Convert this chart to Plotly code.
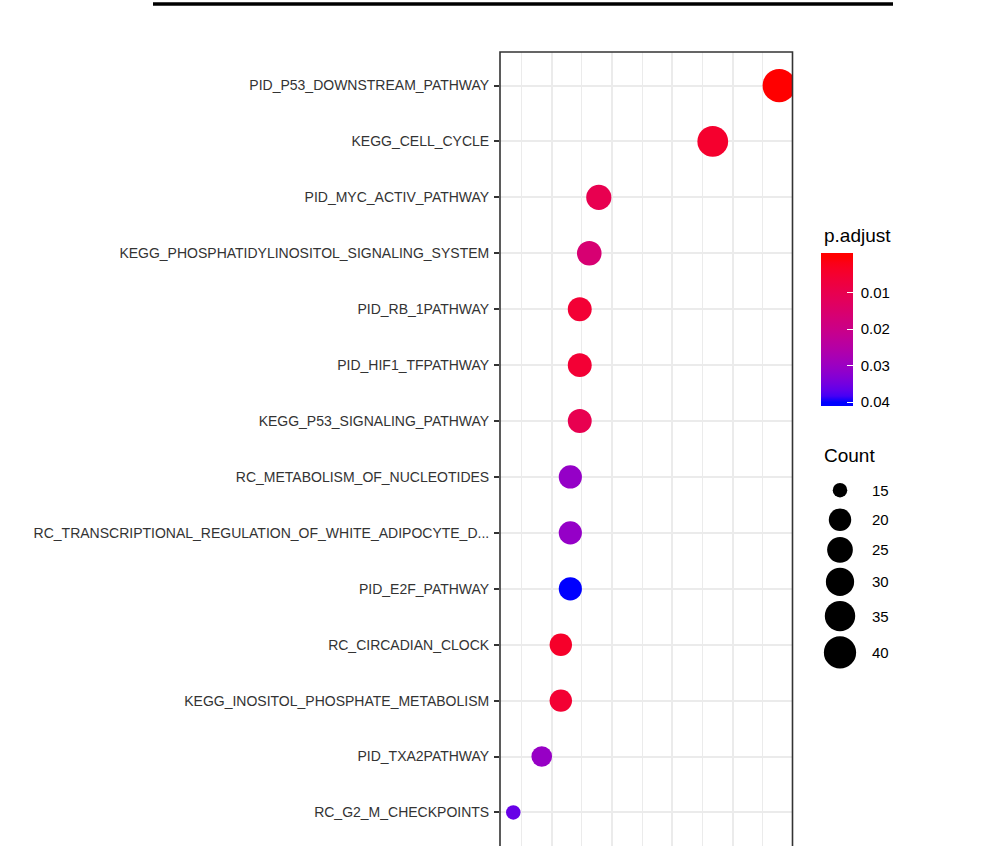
import numpy as np
import plotly.graph_objects as go

# ---------------- data ----------------
pathways = [
    "PID_P53_DOWNSTREAM_PATHWAY",
    "KEGG_CELL_CYCLE",
    "PID_MYC_ACTIV_PATHWAY",
    "KEGG_PHOSPHATIDYLINOSITOL_SIGNALING_SYSTEM",
    "PID_RB_1PATHWAY",
    "PID_HIF1_TFPATHWAY",
    "KEGG_P53_SIGNALING_PATHWAY",
    "RC_METABOLISM_OF_NUCLEOTIDES",
    "RC_TRANSCRIPTIONAL_REGULATION_OF_WHITE_ADIPOCYTE_D...",
    "PID_E2F_PATHWAY",
    "RC_CIRCADIAN_CLOCK",
    "KEGG_INOSITOL_PHOSPHATE_METABOLISM",
    "PID_TXA2PATHWAY",
    "RC_G2_M_CHECKPOINTS",
]
gene_ratio = [0.3386, 0.2835, 0.1890, 0.1811, 0.1732, 0.1732, 0.1732,
              0.1654, 0.1654, 0.1654, 0.1575, 0.1575, 0.1417, 0.1181]
count = [43, 36, 24, 23, 22, 22, 22, 21, 21, 21, 20, 20, 18, 15]
p_adjust = [0.00023, 0.0048, 0.0102, 0.0162, 0.0058, 0.0058, 0.0102,
            0.0309, 0.0309, 0.04005, 0.0042, 0.0055, 0.0305, 0.0361]

size_breaks = [15, 20, 25, 30, 35, 40]
color_breaks = [0.01, 0.02, 0.03, 0.04]
color_labels = ["0.01", "0.02", "0.03", "0.04"]

# ---------------- geometry / style ----------------
W, H = 985, 846
PANEL_L, PANEL_R, PANEL_T = 500, 792.5, 51.5
FONT = "Liberation Sans, Arial, sans-serif"
GRID = "#EBEBEB"
BORDER = "#333333"
D_MIN, D_MAX = 14.5, 33.3          # point diameters (px) for min / max count

CB_X, CB_TOP, CB_LEN, CB_THICK = 820.7, 253.3, 152.7, 31.6
CB_Y_FIX = 16.3                     # plotly places the bar this much higher than asked
LEG_X, LEG_LABEL_X, LEG_FIRST_Y = 840, 870, 490


# ---------------- colour scale (CIELAB interpolation red -> blue) ----------------
def srgb_to_lab(rgb):
    c = np.array(rgb, float) / 255
    c = np.where(c > 0.04045, ((c + 0.055) / 1.055) ** 2.4, c / 12.92)
    M = np.array([[0.4124, 0.3576, 0.1805],
                  [0.2126, 0.7152, 0.0722],
                  [0.0193, 0.1192, 0.9505]])
    xyz = M @ c / np.array([0.95047, 1.0, 1.08883])
    f = np.where(xyz > 0.008856, np.cbrt(xyz), 7.787 * xyz + 16 / 116)
    return np.array([116 * f[1] - 16, 500 * (f[0] - f[1]), 200 * (f[1] - f[2])])


def lab_to_srgb(lab):
    L, a, b = lab
    fy = (L + 16) / 116
    fx = fy + a / 500
    fz = fy - b / 200
    f = np.array([fx, fy, fz])
    xyz = np.where(f ** 3 > 0.008856, f ** 3, (f - 16 / 116) / 7.787)
    xyz = xyz * np.array([0.95047, 1.0, 1.08883])
    Minv = np.array([[3.2406, -1.5372, -0.4986],
                     [-0.9689, 1.8758, 0.0415],
                     [0.0557, -0.2040, 1.0570]])
    c = Minv @ xyz
    c = np.clip(c, 0, 1)
    c = np.where(c > 0.0031308, 1.055 * c ** (1 / 2.4) - 0.055, 12.92 * c)
    c = np.clip(np.round(c * 255), 0, 255).astype(int)
    return "rgb(%d,%d,%d)" % tuple(c)


LAB_RED = srgb_to_lab((255, 0, 0))
LAB_BLUE = srgb_to_lab((0, 0, 255))

p_min, p_max = min(p_adjust), max(p_adjust)
pad = (p_max - p_min) / 38.0        # ggplot colourbar half-bin (nbin = 20)
bar_lo, bar_hi = p_min - pad, p_max + pad
# colour values are negated so that small p.adjust is at the top of the bar
c_min, c_max = -bar_hi, -bar_lo
s_blue = (-p_max - c_min) / (c_max - c_min)
s_red = (-p_min - c_min) / (c_max - c_min)
colorscale = [[0.0, "rgb(0,0,255)"]]
N = 24
for i in range(N + 1):
    t = i / N                       # 0 -> blue, 1 -> red
    lab = LAB_BLUE + (LAB_RED - LAB_BLUE) * t
    colorscale.append([s_blue + (s_red - s_blue) * t, lab_to_srgb(lab)])
colorscale.append([1.0, "rgb(255,0,0)"])

# ---------------- size scale (area scale like ggplot) ----------------
c_lo, c_hi = min(count), max(count)


def size_px(c):
    return D_MIN + (D_MAX - D_MIN) * np.sqrt((c - c_lo) / (c_hi - c_lo))


sizes = [float(size_px(c)) for c in count]

# ---------------- x range: ggplot 5% expansion ----------------
xr = max(gene_ratio) - min(gene_ratio)
x_range = [min(gene_ratio) - 0.05 * xr, max(gene_ratio) + 0.05 * xr]

fig = go.Figure()

fig.add_trace(go.Scatter(
    x=gene_ratio, y=pathways, mode="markers",
    marker=dict(
        size=sizes, sizemode="diameter",
        color=[-p for p in p_adjust], cmin=c_min, cmax=c_max,
        colorscale=colorscale, line=dict(width=0), opacity=1,
        showscale=True,
        colorbar=dict(
            x=CB_X / W, xref="container", xanchor="left", xpad=0,
            y=1 - (CB_TOP + CB_Y_FIX) / H, yref="container", yanchor="top", ypad=0,
            len=CB_LEN, lenmode="pixels",
            thickness=CB_THICK, thicknessmode="pixels",
            outlinewidth=0, borderwidth=0,
            tickvals=[-v for v in color_breaks],
            ticktext=["\u00a0" + s for s in color_labels],
            ticks="inside", ticklen=6, tickcolor="white", tickwidth=1,
            tickfont=dict(family=FONT, size=15, color="black"),
        ),
    ),
    hoverinfo="x+y", showlegend=False,
))

# size legend (drawn on a pixel-unit overlay axis)
leg_d = [float(size_px(s)) for s in size_breaks]
key_h = [max(29.5, d + 5) for d in leg_d]
leg_y = [LEG_FIRST_Y]
for i in range(1, len(size_breaks)):
    leg_y.append(leg_y[-1] + (key_h[i - 1] + key_h[i]) / 2)

fig.add_trace(go.Scatter(
    x=[LEG_X] * len(size_breaks), y=leg_y, mode="markers",
    marker=dict(size=leg_d, sizemode="diameter", color="#000000", opacity=1,
                line=dict(width=0)),
    xaxis="x2", yaxis="y2", hoverinfo="skip", showlegend=False,
))

annotations = []
for s, y in zip(size_breaks, leg_y):
    annotations.append(dict(x=LEG_LABEL_X, y=y, xref="x2", yref="y2", text=str(s),
                            showarrow=False, xanchor="left", yanchor="middle",
                            font=dict(family=FONT, size=15, color="black")))
annotations.append(dict(x=821.5, y=235, xref="x2", yref="y2", text="p.adjust",
                        showarrow=False, xanchor="left", yanchor="middle",
                        font=dict(family=FONT, size=19, color="black")))
annotations.append(dict(x=821.5, y=455, xref="x2", yref="y2", text="Count",
                        showarrow=False, xanchor="left", yanchor="middle",
                        font=dict(family=FONT, size=19, color="black")))

shapes = []
# panel border (bottom edge lies below the visible page)
x0p, x1p = PANEL_L / W, PANEL_R / W
shapes.append(dict(type="rect", xref="paper", yref="paper", x0=x0p, x1=x1p,
                   y0=-0.03, y1=1, line=dict(color=BORDER, width=1.6),
                   fillcolor="rgba(0,0,0,0)", layer="above"))
# white ticks on left edge of colour bar
for v in color_breaks:
    ty = CB_TOP + (v - bar_lo) / (bar_hi - bar_lo) * CB_LEN
    shapes.append(dict(type="line", xref="x2", yref="y2", x0=CB_X, x1=CB_X + 6,
                       y0=ty, y1=ty, line=dict(color="white", width=1), layer="above"))
# heading underline at the very top (heading text is cut off)
plot_h = H - PANEL_T
shapes.append(dict(type="line", xref="paper", yref="paper", x0=153 / W, x1=893 / W,
                   y0=1 + (PANEL_T - 3.5) / plot_h, y1=1 + (PANEL_T - 3.5) / plot_h,
                   line=dict(color="black", width=3.5)))

n = len(pathways)
fig.update_layout(
    width=W, height=H,
    margin=dict(l=0, r=0, t=PANEL_T, b=0, pad=0, autoexpand=False),
    paper_bgcolor="white", plot_bgcolor="rgba(0,0,0,0)",
    font=dict(family=FONT),
    showlegend=False,
    xaxis=dict(domain=[x0p, x1p], range=x_range, tick0=0, dtick=0.05,
               showgrid=True, gridcolor=GRID, gridwidth=2,
               minor=dict(dtick=0.025, tick0=0, showgrid=True, gridcolor=GRID, gridwidth=1),
               showticklabels=False, ticks="", zeroline=False, showline=False,
               fixedrange=True, automargin=False),
    yaxis=dict(type="category", categoryorder="array", categoryarray=pathways,
               range=[n - 1 + 0.6, -0.6], showgrid=True, gridcolor=GRID, gridwidth=2,
               ticks="outside", ticklen=5, tickwidth=2, tickcolor=BORDER,
               ticklabelstandoff=2,
               tickfont=dict(family=FONT, size=14, color="#333333"),
               zeroline=False, showline=False, fixedrange=True, automargin=False),
    xaxis2=dict(domain=[0, 1], range=[0, W], visible=False, anchor="y2",
                fixedrange=True, automargin=False),
    yaxis2=dict(domain=[0, 1], range=[H, PANEL_T], visible=False, anchor="x2",
                fixedrange=True, automargin=False),
    annotations=annotations,
    shapes=shapes,
)

fig.write_html("out.html",
               config={"displayModeBar": False},
               post_script="document.body.style.margin='0px';"
                           "document.body.style.overflow='hidden';")
